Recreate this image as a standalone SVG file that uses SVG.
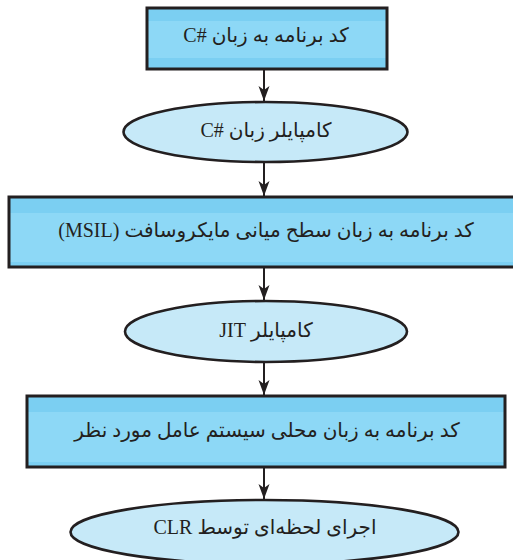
<svg xmlns="http://www.w3.org/2000/svg" width="513" height="560" viewBox="0 0 513 560">
<style>
.box{stroke:#231f20;stroke-width:3}
.ell{fill:#c6e9f8;stroke:#231f20;stroke-width:2.6}
.lbl{font-family:"Liberation Serif","DejaVu Sans",serif;font-size:20px;fill:#231f20;text-anchor:middle}
.conn line{stroke:#231f20;stroke-width:2}
</style>
<defs>
<linearGradient id="g1" x1="0" y1="0" x2="0" y2="1">
<stop offset="0" stop-color="#7bcff2"/><stop offset="0.21" stop-color="#7bcff2"/>
<stop offset="0.21" stop-color="#8dd8f6"/><stop offset="0.82" stop-color="#8dd8f6"/>
<stop offset="0.82" stop-color="#7bcff2"/><stop offset="1" stop-color="#7bcff2"/>
</linearGradient>
<linearGradient id="g2" x1="0" y1="0" x2="0" y2="1">
<stop offset="0" stop-color="#7bcff2"/><stop offset="0.23" stop-color="#7bcff2"/>
<stop offset="0.23" stop-color="#8dd8f6"/><stop offset="0.93" stop-color="#8dd8f6"/>
<stop offset="0.93" stop-color="#7bcff2"/><stop offset="1" stop-color="#7bcff2"/>
</linearGradient>
<marker id="ah" markerUnits="userSpaceOnUse" markerWidth="16" markerHeight="12" refX="15" refY="6" orient="auto">
<path d="M0,0.5 L15,6 L0,11.5 L4,6 Z" fill="#231f20"/>
</marker>
</defs>
<g id="connectors" class="conn">
<line x1="264" y1="69" x2="264" y2="101" marker-end="url(#ah)"/>
<line x1="264" y1="162" x2="264" y2="196" marker-end="url(#ah)"/>
<line x1="264" y1="267" x2="264" y2="300" marker-end="url(#ah)"/>
<line x1="264" y1="362" x2="264" y2="395" marker-end="url(#ah)"/>
<line x1="264" y1="467" x2="264" y2="499" marker-end="url(#ah)"/>
</g>
<g id="n1">
<rect class="box" x="147" y="8" width="240" height="61" fill="url(#g1)"/>
<text class="lbl" x="266" y="42" direction="rtl">کد برنامه به زبان C#&#x200E;</text>
</g>
<g id="n2">
<ellipse class="ell" cx="265.5" cy="132" rx="142" ry="30"/>
<text class="lbl" x="266" y="137" direction="rtl">کامپایلر زبان C#&#x200E;</text>
</g>
<g id="n3">
<rect class="box" x="9" y="197" width="510" height="70" fill="url(#g2)"/>
<text class="lbl" x="266" y="237" direction="rtl">کد برنامه به زبان سطح میانی مایکروسافت (MSIL)</text>
</g>
<g id="n4">
<ellipse class="ell" cx="266" cy="331.5" rx="141" ry="30.5"/>
<text class="lbl" x="266" y="337" direction="rtl">کامپایلر JIT</text>
</g>
<g id="n5">
<rect class="box" x="27" y="396" width="478" height="71" fill="url(#g2)"/>
<text class="lbl" x="267" y="437" direction="rtl">کد برنامه به زبان محلی سیستم عامل مورد نظر</text>
</g>
<g id="n6">
<ellipse class="ell" cx="264.5" cy="532" rx="194" ry="32"/>
<text class="lbl" x="265" y="534" direction="rtl">اجرای لحظه‌ای توسط CLR</text>
</g>
</svg>
